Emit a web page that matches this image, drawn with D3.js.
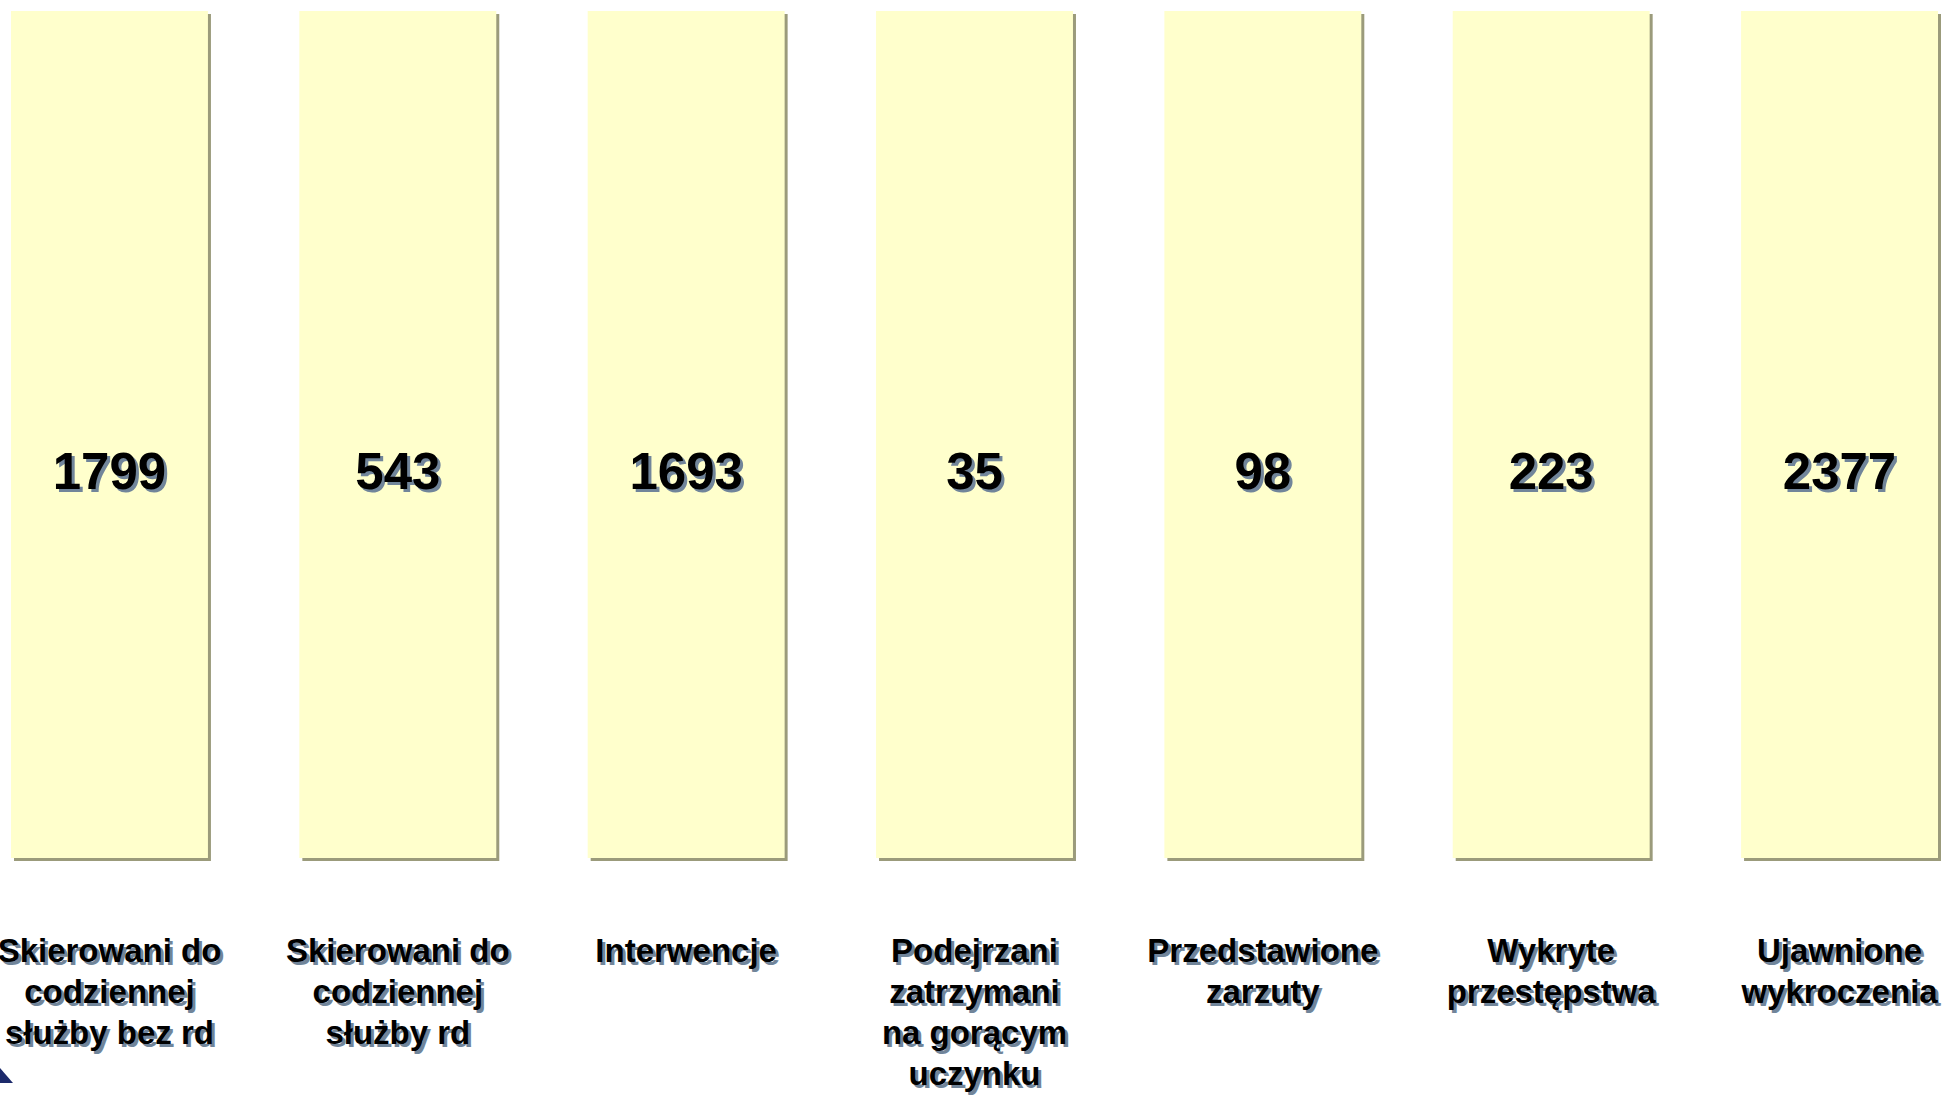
<!DOCTYPE html>
<html>
<head>
<meta charset="utf-8">
<script src="https://cdn.jsdelivr.net/npm/d3@7"></script>
<style>
body { margin: 0; background: #fff; }
svg { display: block; font-family: "Liberation Sans", Arial, sans-serif; font-weight: bold; }
</style>
</head>
<body>
<div id="graph"></div>
<script>
// data
var categories = [
  ["Skierowani do", "codziennej", "służby bez rd"],
  ["Skierowani do", "codziennej", "służby rd"],
  ["Interwencje"],
  ["Podejrzani", "zatrzymani", "na gorącym", "uczynku"],
  ["Przedstawione", "zarzuty"],
  ["Wykryte", "przestępstwa"],
  ["Ujawnione", "wykroczenia"]
];
var values = [1799, 543, 1693, 35, 98, 223, 2377];

var width = 1942, height = 1095;

var svg = d3.select("#graph").append("svg")
  .attr("width", width)
  .attr("height", height);

var idx = d3.range(values.length);

// set the ranges
var x = d3.scaleBand()
  .domain(idx)
  .range([11, 1938])
  .paddingInner(0.317)
  .paddingOuter(0);

// every box is drawn the same height, the number is written inside
var y = d3.scaleLinear().domain([0, 1]).range([858, 11]);

var boxes = svg.selectAll(".box")
  .data(idx)
  .enter().append("g")
  .attr("class", "box");

// drop shadow
boxes.append("rect")
  .attr("x", function(d) { return x(d) + 3; })
  .attr("y", y(1) + 3)
  .attr("width", x.bandwidth())
  .attr("height", y(0) - y(1))
  .attr("fill", "#9b9b7b");

boxes.append("rect")
  .attr("x", function(d) { return x(d); })
  .attr("y", y(1))
  .attr("width", x.bandwidth())
  .attr("height", y(0) - y(1))
  .attr("fill", "#ffffcc");

// value in the middle of the box
function shadowText(sel, dx, dy, fill) {
  return sel.attr("transform", "translate(" + dx + "," + dy + ")").attr("fill", fill);
}

[["#71859a", 3], ["#000", 0]].forEach(function(s) {
  var g = svg.append("g");
  shadowText(g, s[1], s[1], s[0]);
  g.selectAll("text.val")
    .data(idx)
    .enter().append("text")
    .attr("class", "val")
    .attr("x", function(d) { return x(d) + x.bandwidth() / 2; })
    .attr("y", 489)
    .attr("text-anchor", "middle")
    .attr("font-size", 51)
    .text(function(d) { return values[d]; });

  // category labels under the boxes
  var lab = g.selectAll("text.cat")
    .data(idx)
    .enter().append("text")
    .attr("class", "cat")
    .attr("text-anchor", "middle")
    .attr("font-size", 33);
  lab.selectAll("tspan")
    .data(function(d) { return categories[d].map(function(t) { return {t: t, i: d}; }); })
    .enter().append("tspan")
    .attr("x", function(l) { return x(l.i) + x.bandwidth() / 2; })
    .attr("y", function(l, j) { return 962 + j * 41; })
    .text(function(l) { return l.t; });
});

// corner of the logo in the bottom left
svg.append("path")
  .attr("d", "M0,1068 L0,1083 L13,1083 Z")
  .attr("fill", "#1c2a6b");
</script>
</body>
</html>
